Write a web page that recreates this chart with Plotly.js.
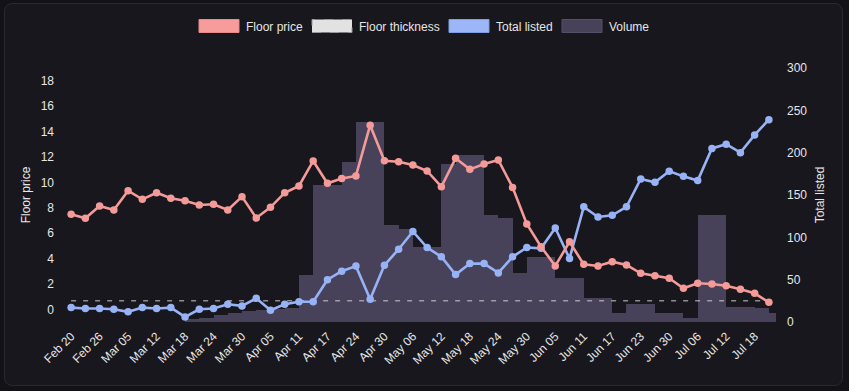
<!DOCTYPE html>
<html>
<head>
<meta charset="utf-8">
<script src="https://cdn.plot.ly/plotly-3.0.1.min.js"></script>
<style>
  html, body { margin: 0; padding: 0; background: #131217; width: 849px; height: 391px; overflow: hidden; }
  #card { position: absolute; left: 4px; top: 3px; width: 837px; height: 381px; background: #18171d; border: 1px solid #2a2930; border-radius: 8px; }
  #chart { position: absolute; left: 0; top: 0; width: 849px; height: 391px; }
</style>
</head>
<body>
<div id="card"></div>
<div id="chart"></div>
<script>
const dates = ["Feb 20","Feb 23","Feb 26","Mar 01","Mar 05","Mar 08","Mar 12","Mar 15","Mar 18","Mar 21",
  "Mar 24","Mar 27","Mar 30","Apr 02","Apr 05","Apr 08","Apr 11","Apr 14","Apr 17","Apr 20",
  "Apr 24","Apr 27","Apr 30","May 03","May 06","May 09","May 12","May 15","May 18","May 21",
  "May 24","May 27","May 30","Jun 02","Jun 05","Jun 08","Jun 11","Jun 14","Jun 17","Jun 20",
  "Jun 23","Jun 27","Jun 30","Jul 03","Jul 06","Jul 09","Jul 12","Jul 15","Jul 18","Jul 21"];

const tickLabels = ["Feb 20","Feb 26","Mar 05","Mar 12","Mar 18","Mar 24","Mar 30","Apr 05","Apr 11","Apr 17",
  "Apr 24","Apr 30","May 06","May 12","May 18","May 24","May 30","Jun 05","Jun 11","Jun 17",
  "Jun 23","Jun 30","Jul 06","Jul 12","Jul 18"];

const floorPrice = [7.48,7.17,8.13,7.82,9.34,8.66,9.18,8.74,8.55,8.21,
  8.27,7.82,8.87,7.19,8.03,9.18,9.71,11.68,9.92,10.3,
  10.5,14.5,11.7,11.62,11.36,10.89,9.65,11.89,11.02,11.44,
  11.76,9.6,6.72,4.93,3.41,5.32,3.54,3.41,3.75,3.49,
  2.83,2.65,2.44,1.65,2.05,1.99,1.86,1.57,1.26,0.55];

const totalListed = [17,16,16,15,12,17,16,17,6,15,
  16,21,19,28,14,21,24,24,50,60,
  66,27,67,86,107,88,77,56,69,69,
  58,77,88,87,111,75,136,124,126,136,
  169,165,178,172,167,205,210,200,221,239];

const floorThickness = [25,25,25,25,25,25,25,25,25,25,
  25,25,25,25,25,25,25,25,25,25,
  25,25,25,25,25,25,25,25,25,25,
  25,25,25,25,25,25,25,25,25,25,
  25,25,25,25,25,25,25,25,25,25];

const volume = [null,null,null,null,null,null,null,null,1.8,2.4,
  4.1,5.3,6.5,7.1,7.7,8.3,27.8,80.9,80.9,94.5,
  118.1,118.1,57.3,54.9,44.3,44.3,93.3,98.6,98.6,63.2,
  61.4,28.9,38.4,38.4,26,26,14.2,14.2,5.3,10.6,
  10.6,5.3,5.3,2.4,63.2,63.2,8.9,8.9,8.3,5.3];

const C_FLOOR = '#f49a98';
const C_LISTED = '#97b2f5';
const C_VOL = '#47425a';
const C_TEXT = '#e6e6e6';

// y = hidden volume axis (drawn first); y2 = total listed (right); y3 = floor price (left, drawn on top)
const traces = [
  { type: 'bar', name: 'Volume', x: dates, y: volume, yaxis: 'y',
    offset: 0, width: 1, marker: { color: C_VOL, line: { width: 0 } }, hoverinfo: 'skip', showlegend: false },
  { type: 'scatter', mode: 'lines', name: 'Floor thickness', x: dates, y: floorThickness, yaxis: 'y2',
    line: { color: '#c9c9c9', width: 1, dash: '5px,7px' }, hoverinfo: 'skip', showlegend: false },
  { type: 'scatter', mode: 'lines+markers', name: 'Total listed', x: dates, y: totalListed, yaxis: 'y2',
    line: { color: C_LISTED, width: 2.6 }, marker: { color: C_LISTED, size: 7.5 }, hoverinfo: 'skip', showlegend: false },
  { type: 'scatter', mode: 'lines+markers', name: 'Floor price', x: dates, y: floorPrice, yaxis: 'y3',
    line: { color: C_FLOOR, width: 2.6 }, marker: { color: C_FLOOR, size: 7.5 }, hoverinfo: 'skip', showlegend: false }
];

// plot area in px: left 64, right 776, top 68, bottom 322
const PL = 64, PR = 776, PT = 68, PB = 322;
const px = v => (v - PL) / (PR - PL);
const py = v => (PB - v) / (PB - PT);

const legendItems = [
  { label: 'Floor price', x0: 199, fill: '#f79c9b', line: '#e88a8a', dash: 'solid' },
  { label: 'Floor thickness', x0: 312, fill: '#e2e2e2', line: '#9a9a9a', dash: 'dash' },
  { label: 'Total listed', x0: 449, fill: '#9db6f7', line: '#7f9ee6', dash: 'solid' },
  { label: 'Volume', x0: 562, fill: '#47425a', line: '#55506a', dash: 'solid' }
];
const shapes = [], annotations = [];
legendItems.forEach(it => {
  shapes.push({ type: 'rect', xref: 'paper', yref: 'paper',
    x0: px(it.x0), x1: px(it.x0 + 40), y0: py(32.5), y1: py(19.5),
    fillcolor: it.fill, line: { color: it.line, width: 1, dash: it.dash } });
  annotations.push({ xref: 'paper', yref: 'paper', x: px(it.x0 + 45), y: py(26.5),
    xanchor: 'left', yanchor: 'middle', text: it.label, showarrow: false,
    font: { family: 'Liberation Sans, Arial, sans-serif', size: 12, color: C_TEXT } });
});

const layout = {
  width: 849, height: 391,
  margin: { l: PL, r: 849 - PR, t: PT, b: 391 - PB },
  paper_bgcolor: 'rgba(0,0,0,0)',
  plot_bgcolor: 'rgba(0,0,0,0)',
  font: { family: 'Liberation Sans, Arial, sans-serif', size: 12, color: C_TEXT },
  showlegend: false,
  bargap: 0,
  xaxis: { type: 'category', range: [-0.5, 49.5], tickmode: 'array', tickvals: tickLabels, ticktext: tickLabels,
    tickangle: -45, showgrid: false, zeroline: false, showline: false, ticks: '', ticklabelstandoff: 4,
    tickfont: { size: 12, color: C_TEXT } },
  yaxis: { range: [0, 150], visible: false, showgrid: false, zeroline: false },
  yaxis2: { range: [0, 300], overlaying: 'y', side: 'right', tickvals: [0,50,100,150,200,250,300],
    showgrid: false, zeroline: false, showline: false, ticks: '', ticklabelstandoff: 10,
    tickfont: { size: 12, color: C_TEXT },
    title: { text: 'Total listed', font: { size: 12, color: C_TEXT }, standoff: 9 } },
  yaxis3: { range: [-1, 19], overlaying: 'y', side: 'left', tickvals: [0,2,4,6,8,10,12,14,16,18],
    showgrid: false, zeroline: false, showline: false,
    ticks: '', ticklabelstandoff: 9, tickfont: { size: 12, color: C_TEXT },
    title: { text: 'Floor price', font: { size: 12, color: C_TEXT }, standoff: 7 } },
  shapes: shapes,
  annotations: annotations
};

Plotly.newPlot('chart', traces, layout, { displayModeBar: false, staticPlot: true });
</script>
</body>
</html>
